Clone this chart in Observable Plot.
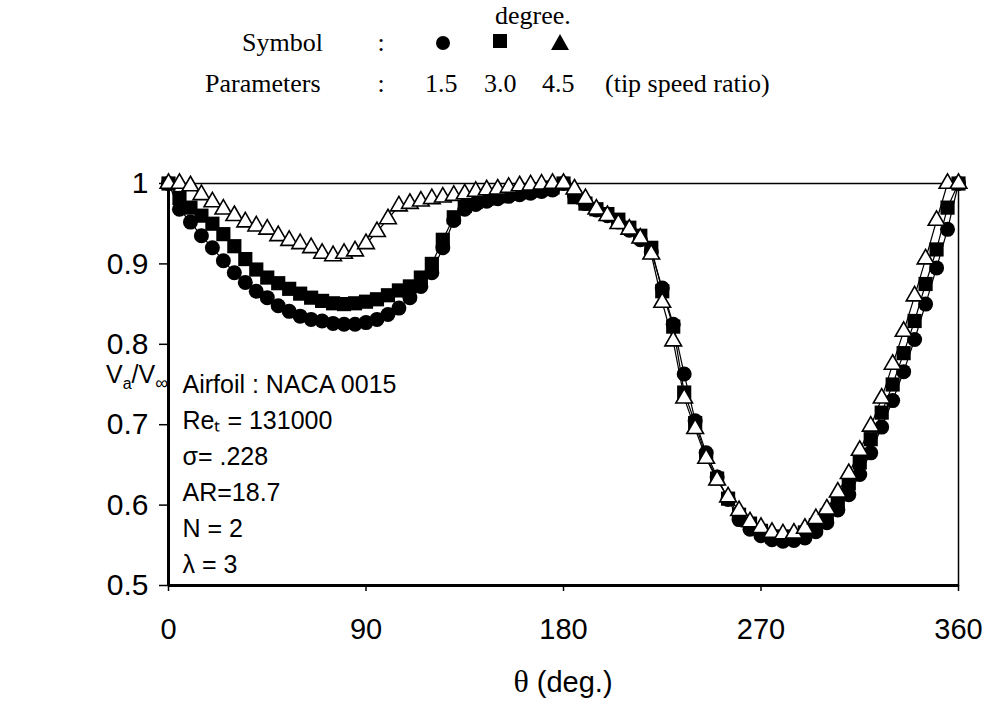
<!DOCTYPE html>
<html>
<head>
<meta charset="utf-8">
<script src="https://cdn.jsdelivr.net/npm/d3@7"></script>
<script src="https://cdn.jsdelivr.net/npm/@observablehq/plot@0.6"></script>
<style>
  body { margin: 0; background: white; }
  #hdr { position: relative; width: 994px; height: 140px; font-family: "Liberation Serif", "Times New Roman", serif; font-size: 26px; color: black; overflow: hidden; }
  #hdr .t { position: absolute; line-height: normal; white-space: nowrap; }
  #hdr .sym { position: absolute; }
</style>
</head>
<body>
<div id="hdr"></div>
<div id="chart"></div>
<script>
// ---- data ----
const theta = [0,5,10,15,20,25,30,35,40,45,50,55,60,65,70,75,80,85,90,95,100,105,110,115,120,125,130,135,140,145,150,155,160,165,170,175,180,185,190,195,200,205,210,215,220,225,230,235,240,245,250,255,260,265,270,275,280,285,290,295,300,305,310,315,320,325,330,335,340,345,350,355,360];
const tsr15 = [1.0,0.968,0.952,0.935,0.92,0.904,0.889,0.877,0.866,0.858,
  0.848,0.841,0.835,0.831,0.829,0.826,0.825,0.825,0.827,0.831,
  0.837,0.845,0.858,0.872,0.889,0.92,0.954,0.968,0.974,0.978,
  0.981,0.984,0.986,0.988,0.99,0.992,1.0,0.985,0.975,0.967,
  0.96,0.952,0.942,0.93,0.915,0.87,0.825,0.763,0.705,0.665,
  0.635,0.607,0.582,0.57,0.562,0.557,0.555,0.556,0.559,0.567,
  0.578,0.594,0.613,0.638,0.665,0.697,0.73,0.766,0.806,0.85,
  0.895,0.943,1.0];
const tsr30 = [1.0,0.982,0.97,0.96,0.95,0.937,0.922,0.906,0.893,0.883,
  0.876,0.869,0.863,0.858,0.854,0.851,0.85,0.851,0.853,0.856,
  0.861,0.867,0.872,0.883,0.9,0.93,0.958,0.972,0.977,0.981,
  0.984,0.987,0.989,0.991,0.993,0.995,1.0,0.983,0.975,0.968,
  0.962,0.955,0.945,0.935,0.92,0.866,0.822,0.74,0.702,0.66,
  0.633,0.608,0.588,0.577,0.568,0.561,0.559,0.561,0.566,0.575,
  0.587,0.605,0.627,0.653,0.682,0.715,0.75,0.789,0.829,0.875,
  0.918,0.97,1.0];
const tsr45 = [1.0,1.0,0.997,0.986,0.977,0.968,0.96,0.952,0.947,0.943,
  0.935,0.929,0.925,0.92,0.913,0.91,0.913,0.916,0.925,0.94,
  0.956,0.972,0.975,0.978,0.981,0.983,0.985,0.987,0.99,0.992,
  0.993,0.995,0.997,0.998,0.999,1.0,1.0,0.993,0.981,0.968,
  0.96,0.95,0.943,0.932,0.912,0.852,0.804,0.733,0.695,0.658,
  0.631,0.61,0.593,0.579,0.572,0.566,0.564,0.565,0.571,0.583,
  0.595,0.616,0.639,0.668,0.698,0.733,0.775,0.816,0.86,0.906,
  0.954,1.0,1.0];
const seriesNames = ["1.5", "3.0", "4.5"];
const xTicks = [0, 90, 180, 270, 360];
const yTicks = [0.5, 0.6, 0.7, 0.8, 0.9, 1];
const yTickLabels = ["0.5", "0.6", "0.7", "0.8", "0.9", "1"];
const annotationLines = ["Airfoil : NACA 0015", "Re\u209C = 131000", "\u03C3= .228", "AR=18.7", "N = 2", "\u03BB = 3"];

// ---- header (legend) ----
const FS = 26;
const hdr = document.getElementById("hdr");
function addText(txt, left, baseline, anchor) {
  const d = document.createElement("div");
  d.className = "t";
  d.textContent = txt;
  d.style.top = (baseline - 0.891 * FS) + "px";
  hdr.appendChild(d);
  if (anchor === "middle") d.style.left = (left - d.offsetWidth / 2) + "px";
  else d.style.left = left + "px";
}
addText("degree.", 533, 24, "middle");
addText("Symbol", 242, 51);
addText(":", 381, 51, "middle");
addText("Parameters", 205, 92);
addText(":", 381, 92, "middle");
addText(seriesNames[0], 425, 92);
addText(seriesNames[1], 484, 92);
addText(seriesNames[2], 542, 92);
addText("(tip speed ratio)", 605, 92);
function addShape(css) {
  const s = document.createElement("div");
  s.className = "sym";
  Object.assign(s.style, css);
  hdr.appendChild(s);
}
addShape({left: "436px", top: "36px", width: "14px", height: "14px", borderRadius: "50%", background: "black"});
addShape({left: "493px", top: "34px", width: "14px", height: "14px", background: "black"});
addShape({left: "551px", top: "34px", width: "0", height: "0", borderLeft: "9px solid transparent", borderRight: "9px solid transparent", borderBottom: "16px solid black"});

// ---- chart ----
const rows = [];
[tsr15, tsr30, tsr45].forEach((vals, s) => {
  theta.forEach((t, i) => rows.push({theta: t, v: vals[i], series: seriesNames[s]}));
});
const sel = name => rows.filter(r => r.series === name);

const plot = Plot.plot({
  width: 994,
  height: 565,
  marginTop: 43,
  marginBottom: 120,
  marginLeft: 168,
  marginRight: 36,
  x: {domain: [0, 360]},
  y: {domain: [0.5, 1]},
  style: {fontFamily: "'Liberation Sans', Arial, sans-serif", background: "white", color: "black", overflow: "visible"},
  marks: [
    Plot.frame({stroke: "black", strokeWidth: 1.5}),
    Plot.axisY({ticks: yTicks, tickFormat: d => yTickLabels[yTicks.indexOf(d)], tickSize: 9, tickPadding: 11, fontSize: 30, label: null, strokeWidth: 1.5}),
    Plot.axisX({ticks: xTicks, tickSize: 6, tickPadding: 27, fontSize: 29, label: null, strokeWidth: 1.5}),
    Plot.ruleX([0], {stroke: "black", strokeWidth: 3}),
    Plot.ruleY([0.5], {stroke: "black", strokeWidth: 3}),
    Plot.line(sel("1.5"), {x: "theta", y: "v", stroke: "black", strokeWidth: 1.2}),
    Plot.dot(sel("1.5"), {x: "theta", y: "v", symbol: "circle", r: 7.5, fill: "black"}),
    Plot.line(sel("3.0"), {x: "theta", y: "v", stroke: "black", strokeWidth: 1.2}),
    Plot.dot(sel("3.0"), {x: "theta", y: "v", symbol: "square", r: 8, fill: "black"}),
    Plot.line(sel("4.5"), {x: "theta", y: "v", stroke: "black", strokeWidth: 1.2}),
    Plot.dot(sel("4.5"), {x: "theta", y: "v", symbol: "triangle", r: 6.2, fill: "white", stroke: "black", strokeWidth: 1.6}),
    Plot.text([annotationLines.join("\n")], {frameAnchor: "top-left", dx: 14, dy: 184, lineAnchor: "top", textAnchor: "start", lineHeight: 1.44, fontSize: 25, fill: "black"})
  ]
});
document.getElementById("chart").appendChild(plot);

// axis titles with subscripts
const svg = d3.select(plot);
const yl = svg.append("text").attr("x", 106).attr("y", 243).attr("fill", "black").attr("text-anchor", "start")
  .style("font-family", "'Liberation Sans', Arial, sans-serif");
yl.append("tspan").attr("font-size", 25).text("V");
yl.append("tspan").attr("font-size", 16).attr("dy", 6).text("a");
yl.append("tspan").attr("font-size", 25).attr("dy", -6).text("/V");
yl.append("tspan").attr("font-size", 18).attr("dy", 6).text("\u221E");

const xl = svg.append("text").attr("x", 563).attr("y", 552).attr("text-anchor", "middle").attr("fill", "black");
xl.append("tspan").style("font-family", "'Liberation Serif', serif").attr("font-size", 32).text("\u03B8");
xl.append("tspan").style("font-family", "'Liberation Sans', Arial, sans-serif").attr("font-size", 29).text(" (deg.)");
</script>
</body>
</html>
